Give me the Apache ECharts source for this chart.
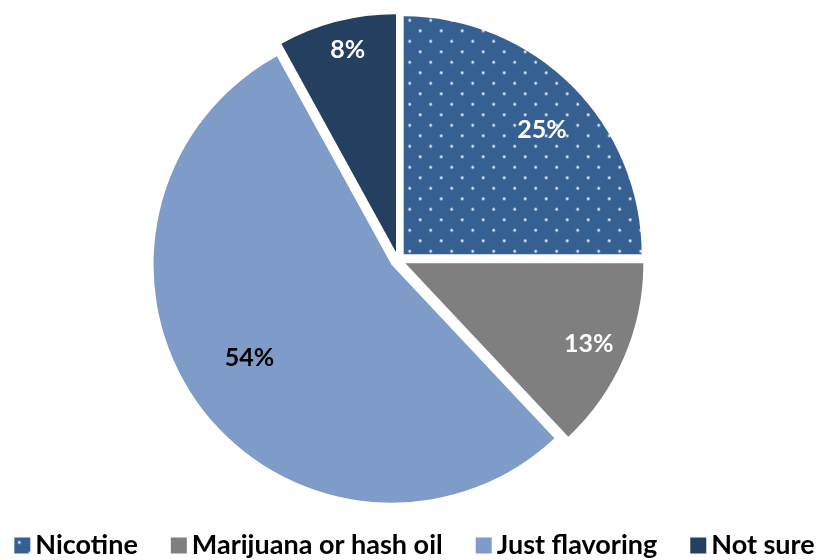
<!DOCTYPE html>
<html>
<head>
<meta charset="utf-8">
<script src="https://cdn.jsdelivr.net/npm/echarts@6/dist/echarts.min.js"></script>
<style>
  html, body { margin: 0; padding: 0; background: #fff; }
  #chart { width: 829px; height: 560px; }
</style>
</head>
<body>
<div id="chart"></div>
<script>
// Chart data
const categories = ['Nicotine', 'Marijuana or hash oil', 'Just flavoring', 'Not sure'];
const shares = [25, 13, 54, 8];
const labelTexts = ['25%', '13%', '54%', '8%'];

// Slice colours and label styling
const sliceColors = ['#365F92', '#7F7F7F', '#7F9BC8', '#243F60'];
const labelColors = ['#fff', '#fff', '#000', '#fff'];
const labelRadius = [0.77, 0.83, 0.70, 0.86]; // fraction of the radius
const labelTurn = [3.0, 0.5, 2.9, 1.0]; // degrees, clockwise

// Dotted pattern for the first slice
function makeDots(base) {
    const c = document.createElement('canvas');
    c.width = 21;
    c.height = 21;
    const ctx = c.getContext('2d');
    ctx.fillStyle = base;
    ctx.fillRect(0, 0, 21, 21);
    ctx.fillStyle = 'rgba(255,255,255,0.9)';
    [[5, 5], [15.5, 15.5]].forEach(p => {
        ctx.beginPath();
        ctx.arc(p[0], p[1], 1.4, 0, Math.PI * 2);
        ctx.fill();
    });
    return c;
}

const R = 238;
const total = shares.reduce((a, b) => a + b, 0);

function midAngle(i) {
    let before = 0;
    for (let k = 0; k < i; k++) before += shares[k];
    return (before + shares[i] / 2) / total * Math.PI * 2;
}

const chart = echarts.init(document.getElementById('chart'));

const data = categories.map((name, i) => ({
    name: name,
    value: shares[i],
    selected: true,
    itemStyle: {
        color: i === 0 ? { image: makeDots(sliceColors[0]), repeat: 'repeat' } : sliceColors[i]
    },
    label: { color: labelColors[i] }
}));

chart.setOption({
    animation: false,
    legend: {
        data: categories,
        left: 'center',
        top: 527,
        icon: 'rect',
        itemWidth: 16,
        itemHeight: 16,
        itemGap: 33,
        selectedMode: false,
        textStyle: {
            fontFamily: 'Lato',
            fontWeight: 'bold',
            fontSize: 27,
            color: '#000'
        }
    },
    series: [{
        type: 'pie',
        center: [398, 260],
        radius: [0, R],
        startAngle: 90,
        clockwise: true,
        selectedMode: 'multiple',
        selectedOffset: 8,
        avoidLabelOverlap: false,
        emphasis: { disabled: true },
        select: { itemStyle: {} },
        label: {
            show: true,
            position: 'inside',
            fontFamily: 'Lato',
            fontWeight: 'bold',
            fontSize: 25,
            formatter: p => labelTexts[p.dataIndex]
        },
        labelLine: { show: false },
        labelLayout: function (params) {
            const i = params.dataIndex;
            const mid = midAngle(i);
            const a = mid + labelTurn[i] * Math.PI / 180;
            const want = labelRadius[i] * R;
            const half = R / 2;
            return {
                dx: Math.sin(a) * want - Math.sin(mid) * half,
                dy: -Math.cos(a) * want + Math.cos(mid) * half
            };
        },
        data: data
    }]
});
</script>
</body>
</html>
